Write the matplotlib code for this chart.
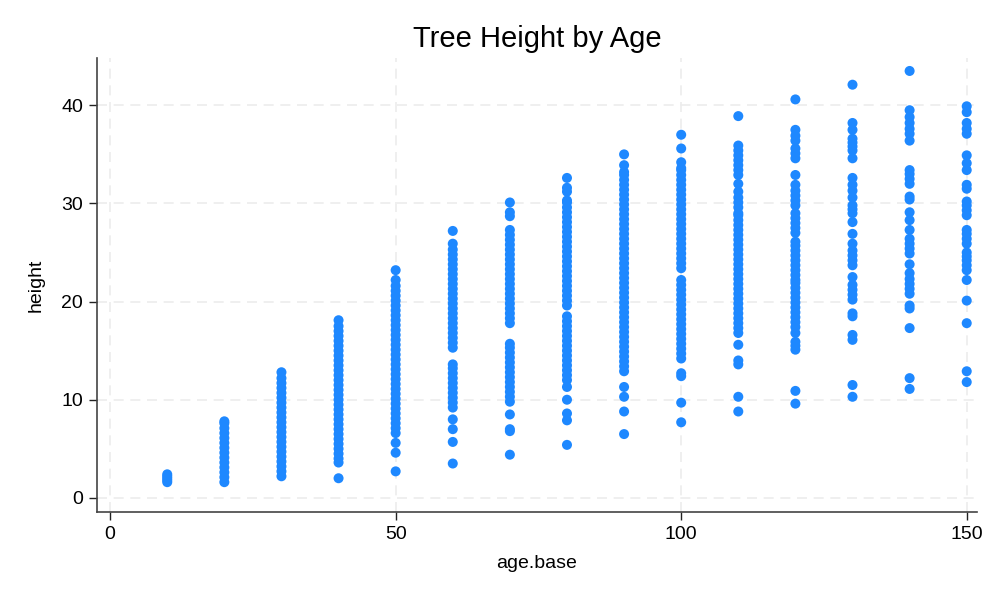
import matplotlib
matplotlib.use("Agg")
import matplotlib.pyplot as plt

# heights (m), one list per base age
ages = [10, 20, 30, 40, 50, 60, 70, 80, 90, 100, 110, 120, 130, 140, 150]

h10 = [1.6, 1.8, 2.0, 2.2, 2.4]
h20 = [1.6, 2.1, 2.6, 3.1, 3.6, 4.1, 4.6, 5.1, 5.6, 6.1, 6.6, 7.1, 7.6, 7.8]
h30 = [2.2, 2.7, 3.2, 3.7, 4.2, 4.7, 5.2, 5.7, 6.2, 6.7, 7.2, 7.7, 8.2, 8.7,
       9.2, 9.7, 10.2, 10.7, 11.2, 11.7, 12.2, 12.8]
h40 = [2.0, 3.6, 4.0, 4.5, 5.0, 5.5, 6.0, 6.5, 7.0, 7.5, 8.0, 8.5, 9.0, 9.5,
       10.0, 10.5, 11.0, 11.5, 12.0, 12.5, 13.0, 13.5, 14.0, 14.5, 15.0, 15.5,
       16.0, 16.5, 17.0, 17.5, 18.1]
h50 = [2.7, 4.6, 5.6, 6.6, 7.1, 7.6, 8.1, 8.6, 9.1, 9.6, 10.1, 10.6, 11.1,
       11.6, 12.1, 12.6, 13.1, 13.6, 14.1, 14.6, 15.1, 15.6, 16.1, 16.6, 17.1,
       17.6, 18.1, 18.6, 19.1, 19.6, 20.1, 20.6, 21.1, 21.6, 22.2, 23.2]
h60 = [3.5, 5.7, 7.0, 8.0, 9.2, 9.7, 10.2, 10.7, 11.2, 11.7, 12.2, 12.7, 13.2,
       13.6, 15.3, 15.8, 16.3, 16.8, 17.3, 17.8, 18.3, 18.8, 19.3, 19.8, 20.3,
       20.8, 21.3, 21.8, 22.3, 22.8, 23.3, 23.8, 24.3, 24.8, 25.3, 25.9, 27.2]
h70 = [4.4, 6.8, 7.0, 8.5, 9.8, 10.3, 10.8, 11.3, 11.8, 12.3, 12.8, 13.3, 13.8,
       14.3, 14.8, 15.3, 15.7, 17.8, 18.3, 18.8, 19.3, 19.8, 20.3, 20.8, 21.3,
       21.8, 22.3, 22.8, 23.3, 23.8, 24.3, 24.8, 25.3, 25.8, 26.3, 26.8, 27.3,
       28.7, 29.1, 30.1]
h80 = [5.4, 7.9, 8.6, 10.0, 11.3, 12.0, 12.5, 13.0, 13.5, 14.0, 14.5, 15.0,
       15.5, 16.0, 16.5, 17.0, 17.5, 18.0, 18.5, 19.6, 20.1, 20.6, 21.1, 21.6,
       22.1, 22.6, 23.1, 23.6, 24.1, 24.6, 25.1, 25.6, 26.1, 26.6, 27.1, 27.6,
       28.1, 28.6, 29.1, 29.6, 30.1, 30.3, 31.2, 31.6, 32.6]
h90 = [6.5, 8.8, 10.3, 11.3, 12.9, 13.4, 13.9, 14.4, 14.9, 15.4, 15.9, 16.4,
       16.9, 17.4, 17.9, 18.4, 18.9, 19.4, 19.9, 20.4, 20.9, 21.4, 21.9, 22.4,
       22.9, 23.4, 23.9, 24.4, 24.9, 25.4, 25.9, 26.4, 26.9, 27.4, 27.9, 28.4,
       28.9, 29.4, 29.9, 30.4, 30.9, 31.4, 31.9, 32.4, 32.9, 33.2, 33.9, 35.0]
h100 = [7.7, 9.7, 12.4, 12.7, 14.2, 14.7, 15.2, 15.7, 16.2, 16.7, 17.2, 17.7,
        18.2, 18.7, 19.2, 19.7, 20.2, 20.7, 21.2, 21.7, 22.2, 23.4, 23.9, 24.4,
        24.9, 25.4, 25.9, 26.4, 26.9, 27.4, 27.9, 28.4, 28.9, 29.4, 29.9, 30.4,
        30.9, 31.4, 31.9, 32.4, 32.9, 33.4, 33.6, 34.2, 35.6, 37.0]
h110 = [8.8, 10.3, 13.6, 14.0, 15.6, 16.8, 17.3, 17.8, 18.3, 18.8, 19.3, 19.8,
        20.3, 20.8, 21.3, 21.8, 22.3, 22.8, 23.3, 23.8, 24.3, 24.8, 25.3, 25.8,
        26.3, 26.8, 27.3, 27.8, 28.3, 28.8, 29.0, 29.6, 30.1, 30.6, 31.2, 32.0,
        32.9, 33.4, 33.9, 34.4, 34.9, 35.4, 35.9, 38.9]
h120 = [9.6, 10.9, 15.1, 15.5, 15.9, 16.8, 17.4, 17.9, 18.4, 18.9, 19.4, 19.9,
        20.4, 20.9, 21.4, 21.9, 22.2, 22.7, 23.2, 23.7, 24.2, 24.7, 25.2, 25.7,
        26.1, 27.0, 27.5, 28.0, 28.5, 29.0, 29.8, 30.3, 30.8, 31.3, 31.9, 32.9,
        34.6, 35.1, 35.6, 36.4, 36.9, 37.5, 40.6]
h130 = [10.3, 11.5, 16.1, 16.6, 18.5, 18.8, 20.2, 20.7, 21.2, 21.7, 22.5, 23.7,
        24.2, 24.7, 25.2, 25.9, 26.9, 28.1, 29.0, 29.4, 29.8, 30.6, 31.3, 31.9,
        32.6, 34.6, 35.4, 35.8, 36.2, 36.6, 37.5, 38.2, 42.1]
h140 = [11.1, 12.2, 17.3, 19.3, 19.6, 20.8, 21.3, 21.8, 22.3, 22.9, 23.8, 24.9,
        25.4, 25.9, 26.4, 27.3, 28.3, 29.1, 30.4, 30.7, 32.0, 32.5, 33.0, 33.4,
        36.4, 37.1, 37.6, 38.2, 38.8, 39.5, 43.5]
h150 = [11.8, 12.9, 17.8, 20.1, 22.2, 23.2, 23.7, 24.2, 24.6, 25.0, 25.9, 26.4,
        26.9, 27.3, 28.8, 29.3, 29.8, 30.2, 31.5, 31.9, 33.4, 34.1, 34.9, 37.1,
        37.6, 38.2, 39.3, 39.9]

heights = [h10, h20, h30, h40, h50, h60, h70, h80, h90, h100,
           h110, h120, h130, h140, h150]

x = []
y = []
for age, hs in zip(ages, heights):
    x += [age] * len(hs)
    y += hs

plt.rcParams['font.family'] = ['Liberation Sans', 'DejaVu Sans']

fig = plt.figure(figsize=(10, 6), dpi=100)
ax = fig.add_axes([0.097, 0.147, 0.880, 0.756])

ax.scatter(x, y, s=52, color='#1e88ff', edgecolors='none', zorder=3)

ax.set_xlim(-2.3, 151.8)
ax.set_ylim(-1.42, 44.8)
ax.set_xticks([0, 50, 100, 150])
ax.set_yticks([0, 10, 20, 30, 40])
ax.grid(True, color='#ececec', linestyle=(0, (6, 4)), linewidth=1.2, zorder=0)

for side in ['top', 'right']:
    ax.spines[side].set_visible(False)
for side in ['left', 'bottom']:
    ax.spines[side].set_color('#444444')
    ax.spines[side].set_linewidth(1.2)
ax.tick_params(direction='out', length=6, width=1, color='#222222',
               labelsize=14, pad=4)

ax.set_xlabel('age.base', fontsize=14, labelpad=9)
ax.set_ylabel('height', fontsize=14, labelpad=12)
ax.set_title('Tree Height by Age', fontsize=21, pad=8)

fig.savefig('out.png', dpi=100)
